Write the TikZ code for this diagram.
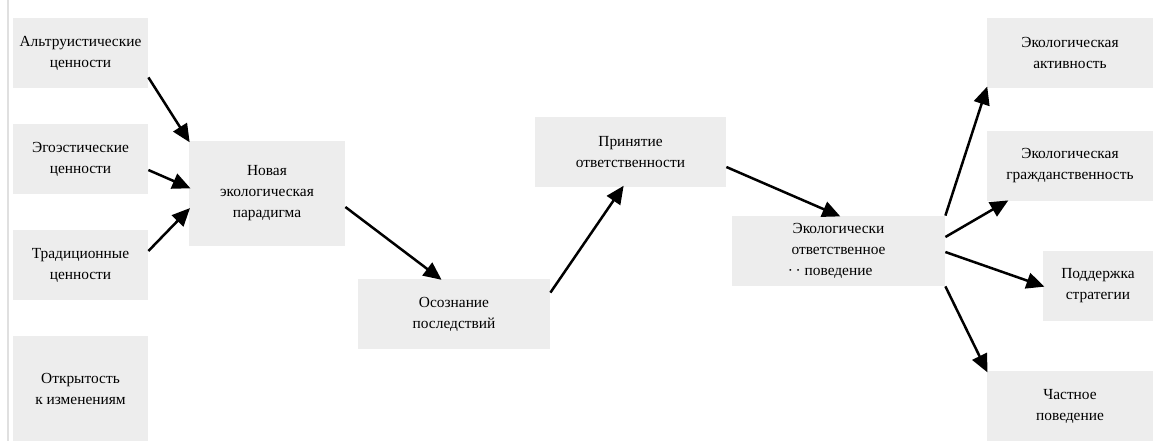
\documentclass[tikz,border=0pt]{standalone}
\usepackage{fontspec}
\setmainfont{Liberation Serif}
\usetikzlibrary{arrows.meta,calc}
\definecolor{boxgray}{RGB}{237,237,237}
\begin{document}
\begin{tikzpicture}[x=0.5pt,y=-0.5pt,
  box/.style={fill=boxgray,draw=none,inner sep=0pt,align=center,
    font=\fontsize{7.7}{10.5}\selectfont},
  conn/.style={line width=1.25pt,-{Triangle[length=9pt,width=8pt]},shorten >=-1pt}]
\useasboundingbox (0,0) rectangle (1153,441);
\draw[black!12,line width=0.6pt] (8,0) -- (8,441);
% left column
\node[box,minimum width=67.5pt,minimum height=35pt] (a1) at (80.5,53) {Альтруистические\\ценности};
\node[box,minimum width=67.5pt,minimum height=35pt] (a2) at (80.5,159) {Эгоэстические\\ценности};
\node[box,minimum width=67.5pt,minimum height=35pt] (a3) at (80.5,265) {Традиционные\\ценности};
\node[box,minimum width=67.5pt,minimum height=52.5pt] (a4) at (80.5,388.5) {Открытость\\к изменениям};
% middle
\node[box,minimum width=78pt,minimum height=52.5pt] (nep) at (267,193.5) {Новая\\экологическая\\парадигма};
\node[box,minimum width=96pt,minimum height=35pt] (aw) at (454,314) {Осознание\\последствий};
\node[box,minimum width=95.5pt,minimum height=35pt] (ar) at (630.5,152) {Принятие\\ответственности};
\node[box,minimum width=106.5pt,minimum height=35pt] (eob) at (838.5,251) {Экологически\\ответственное\\\llap{\textperiodcentered\,\textperiodcentered\ }поведение};
% right column
\node[box,minimum width=83pt,minimum height=35pt] (ea) at (1070,53) {Экологическая\\активность};
\node[box,minimum width=83pt,minimum height=35pt] (eg) at (1070,166) {Экологическая\\гражданственность};
\node[box,minimum width=55pt,minimum height=35pt] (ps) at (1098,286) {Поддержка\\стратегии};
\node[box,minimum width=83pt,minimum height=35pt] (ch) at (1070,406) {Частное\\поведение};
% connectors
\draw[conn] ($(a1.south east)+(0,-11)$) -- (nep.north west);
\draw[conn] ($(a2.east)+(0,11)$) -- ($(nep.west)+(0,-6)$);
\draw[conn] ($(a3.east)+(0,-14)$) -- ($(nep.west)+(0,16)$);
\draw[conn] ($(nep.east)+(0,13.5)$) -- ($(aw.north)+(-14,0)$);
\draw[conn] ($(aw.north east)+(0,14)$) -- ($(ar.south)+(-8,0)$);
\draw[conn] ($(ar.east)+(0,15)$) -- (eob.north);
\draw[conn] (eob.north east) -- (ea.south west);
\draw[conn] ($(eob.east)+(0,-14)$) -- ($(eg.south west)+(20,0)$);
\draw[conn] ($(eob.east)+(0,1)$) -- (ps.west);
\draw[conn] (eob.south east) -- (ch.north west);
\end{tikzpicture}
\end{document}
